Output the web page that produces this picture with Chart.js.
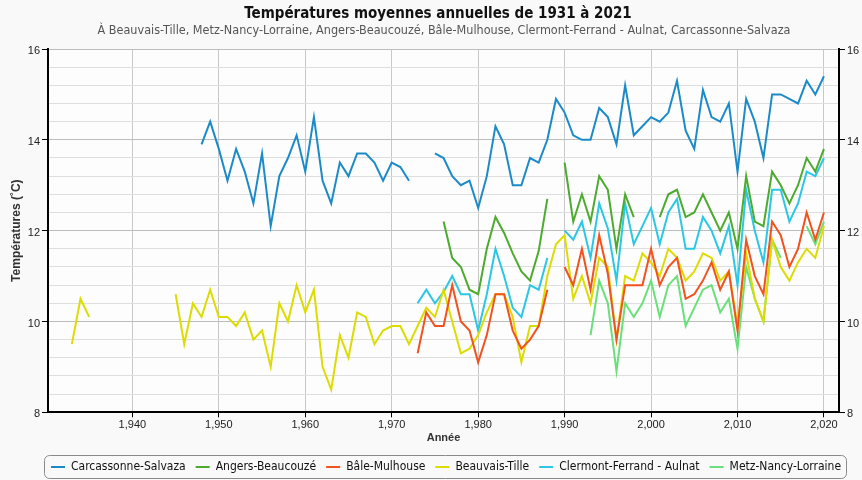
<!DOCTYPE html>
<html>
<head>
<meta charset="utf-8">
<title>Températures moyennes annuelles</title>
<script src="https://cdn.jsdelivr.net/npm/chart.js@4.4.1/dist/chart.umd.min.js"></script>
<style>
    html, body { margin: 0; padding: 0; background: #f9f9f9; }
    #wrap { width: 862px; height: 480px; position: relative; }
</style>
</head>
<body>
<div id="wrap"><canvas id="chart"></canvas></div>
<script>
// ===== DATA (one value per year, null = no measure) =====
const seriesNames = ["Carcassonne-Salvaza", "Angers-Beaucouzé", "Bâle-Mulhouse", "Beauvais-Tille", "Clermont-Ferrand - Aulnat", "Metz-Nancy-Lorraine"];
const seriesColors = ["#1b8bc8", "#4cab2e", "#f2521e", "#dcdc00", "#2bc7e4", "#69e07a"];

const carcassonneStart = 1948;
const carcassonne = [13.9, 14.4, 13.8, 13.1, 13.8, 13.3, 12.6, 13.7, 12.1, 13.2,
    13.6, 14.1, 13.3, 14.5, 13.1, 12.6, 13.5, 13.2, 13.7, 13.7,
    13.5, 13.1, 13.5, 13.4, 13.1, null, null, 13.7, 13.6, 13.2,
    13.0, 13.1, 12.5, 13.2, 14.3, 13.9, 13.0, 13.0, 13.6, 13.5,
    14.0, 14.9, 14.6, 14.1, 14.0, 14.0, 14.7, 14.5, 13.9, 15.2,
    14.1, 14.3, 14.5, 14.4, 14.6, 15.3, 14.2, 13.8, 15.1, 14.5,
    14.4, 14.8, 13.3, 14.9, 14.4, 13.6, 15.0, 15.0, 14.9, 14.8,
    15.3, 15.0, 15.4];

const angersStart = 1976;
const angers = [12.2, 11.4, 11.2, 10.7, 10.6, 11.6, 12.3, 11.95, 11.5, 11.1,
    10.9, 11.55, 12.7, null, 13.5, 12.2, 12.8, 12.2, 13.2, 12.9,
    11.6, 12.8, 12.3, null, null, 12.3, 12.8, 12.9, 12.3, 12.4,
    12.8, 12.4, 12.0, 12.4, 11.6, 13.2, 12.2, 12.1, 13.3, 13.0,
    12.6, 13.0, 13.6, 13.3, 13.8];

const baleStart = 1973;
const bale = [9.3, 10.2, 9.9, 9.9, 10.8, 10.0, 9.8, 9.1, 9.7, 10.6,
    10.6, 9.8, 9.4, 9.6, 9.9, 10.7, null, 11.2, 10.8, 11.6,
    10.7, 11.9, 11.05, 9.6, 10.8, 10.8, 10.8, 11.6, 10.8, 11.2,
    11.4, 10.5, 10.6, 10.9, 11.3, 10.7, 11.1, 9.8, 11.8, 11.0,
    10.6, 12.2, 11.9, 11.2, 11.6, 12.4, 11.8, 12.4];

const beauvaisStart = 1933;
const beauvais = [9.5, 10.5, 10.1, null, null, null, null, null, null, null,
    null, null, 10.6, 9.5, 10.4, 10.1, 10.7, 10.1, 10.1, 9.9,
    10.2, 9.6, 9.8, 9.0, 10.4, 10.0, 10.8, 10.2, 10.7, 9.0,
    8.5, 9.7, 9.2, 10.2, 10.1, 9.5, 9.8, 9.9, 9.9, 9.5,
    9.9, 10.3, 10.1, 10.7, 10.0, 9.3, 9.4, 9.7, 10.2, 10.6,
    10.6, 10.1, 9.1, 9.9, 9.9, 11.0, 11.7, 11.9, 10.5, 11.0,
    10.4, 11.4, 11.2, 9.6, 11.0, 10.9, 11.5, 11.3, 11.0, 11.6,
    11.4, 10.9, 11.1, 11.5, 11.4, 10.9, 11.1, 9.9, 11.5, 10.5,
    10.0, 11.8, 11.2, 10.9, 11.3, 11.6, 11.4, 12.1];

const clermontStart = 1973;
const clermont = [10.4, 10.7, 10.4, 10.65, 11.0, 10.6, 10.6, 9.8, 10.6, 11.6,
    11.0, 10.3, 10.1, 10.8, 10.7, 11.4, null, 12.0, 11.8, 12.2,
    11.4, 12.6, 12.05, 10.9, 12.6, 11.7, 12.1, 12.5, 11.7, 12.4,
    12.7, 11.6, 11.6, 12.3, 12.0, 11.5, 12.1, 10.8, 12.9, 12.0,
    11.3, 12.9, 12.9, 12.2, 12.6, 13.3, 13.2, 13.6];

const metzStart = 1993;
const metz = [9.7, 10.9, 10.4, 8.9, 10.4, 10.1, 10.4, 10.9, 10.1, 10.8,
    11.0, 9.9, 10.3, 10.7, 10.8, 10.2, 10.5, 9.4, 11.2, 10.5,
    10.0, 11.8, 11.4, null, null, 12.1, 11.7, 12.2];

const yearTicks = [1940, 1950, 1960, 1970, 1980, 1990, 2000, 2010, 2020];
const tempLabels = [8, 10, 12, 14, 16];

// ===== helpers =====
function toPoints(start, values) {
    return values.map((v, i) => ({ x: start + i, y: v }));
}
function isMajor(v) {
    return tempLabels.some(t => Math.abs(t - v) < 1e-6);
}

const allSeries = [
    [carcassonneStart, carcassonne], [angersStart, angers], [baleStart, bale],
    [beauvaisStart, beauvais], [clermontStart, clermont], [metzStart, metz]
];

const datasets = allSeries.map(([start, values], i) => ({
    label: seriesNames[i],
    data: toPoints(start, values),
    borderColor: seriesColors[i],
    backgroundColor: seriesColors[i],
    borderWidth: 2,
    pointRadius: 0,
    spanGaps: false,
    tension: 0
}));

Chart.defaults.font.family = "'Liberation Sans', Arial, sans-serif";
Chart.defaults.color = "#222";

// shift a layout box sideways (title / legend are centred on the plot, not the canvas)
function nudge(box, dx) {
    if (!box) return;
    box.left += dx;
    box.right += dx;
}

// plot background + legend frame
const framePlugin = {
    id: "frame",
    afterLayout(chart) {
        nudge(chart.titleBlock, 7);
        const sub = chart.boxes.find(b => b.options && b.options.text === chart.options.plugins.subtitle.text && b !== chart.titleBlock);
        nudge(sub, 13);
        nudge(chart.legend, 15);
    },
    beforeDraw(chart) {
        const { ctx, chartArea: a } = chart;
        ctx.save();
        ctx.fillStyle = "#fdfdfd";
        ctx.fillRect(a.left, a.top, a.right - a.left, a.bottom - a.top);
        ctx.restore();
    },
    afterDraw(chart) {
        if (!chart.legend) return;
        const ctx = chart.ctx;
        ctx.save();
        ctx.strokeStyle = "#8a8a8a";
        ctx.lineWidth = 1;
        ctx.beginPath();
        ctx.roundRect(44.5, 455.5, 802, 23, 5);
        ctx.stroke();
        ctx.restore();
    }
};

new Chart(document.getElementById("chart"), {
    type: "line",
    data: { datasets },
    plugins: [framePlugin],
    options: {
        responsive: true,
        maintainAspectRatio: false,
        animation: false,
        layout: { padding: { left: 0, right: 0, top: 0, bottom: -3 } },
        plugins: {
            title: {
                display: true,
                text: "Températures moyennes annuelles de 1931 à 2021",
                font: { family: "'DejaVu Sans Condensed', sans-serif", size: 15, weight: "bold" },
                color: "#111",
                padding: { top: 5, bottom: 0 }
            },
            subtitle: {
                display: true,
                text: "À Beauvais-Tille, Metz-Nancy-Lorraine, Angers-Beaucouzé, Bâle-Mulhouse, Clermont-Ferrand - Aulnat, Carcassonne-Salvaza",
                font: { family: "'DejaVu Sans Condensed', sans-serif", size: 12.5 },
                color: "#555",
                padding: { top: 0, bottom: 11 }
            },
            legend: {
                position: "bottom",
                labels: {
                    usePointStyle: true,
                    pointStyle: "line",
                    pointStyleWidth: 14,
                    padding: 10,
                    color: "#111",
                    font: { family: "'DejaVu Sans Condensed', sans-serif", size: 12 }
                }
            },
            tooltip: { enabled: false }
        },
        scales: {
            x: {
                type: "linear",
                min: 1930.24,
                max: 2021.74,
                afterBuildTicks: scale => { scale.ticks = yearTicks.map(v => ({ value: v })); },
                afterFit: scale => { scale.height = 38.7; },
                ticks: {
                    padding: 1,
                    font: { size: 11 },
                    maxRotation: 0,
                    callback: v => v.toLocaleString("en-US")
                },
                grid: { color: "#c8c8c8", tickColor: "#000", tickLength: 5 },
                border: { color: "#000", width: 2 },
                title: {
                    display: true,
                    text: "Année",
                    font: { size: 11, weight: "bold" },
                    color: "#333",
                    padding: { top: 0, bottom: 6 }
                }
            },
            y: {
                position: "left",
                min: 8,
                max: 16,
                afterFit: scale => { scale.width = 48; },
                ticks: {
                    stepSize: 0.4,
                    autoSkip: false,
                    padding: 2,
                    labelOffset: 2,
                    font: { size: 11 },
                    callback: v => isMajor(v) ? String(Math.round(v)) : ""
                },
                grid: {
                    color: c => isMajor(c.tick.value) ? "#bdbdbd" : "#dedede",
                    tickColor: c => isMajor(c.tick.value) ? "#000" : "rgba(0,0,0,0)",
                    tickLength: 6
                },
                border: { color: "#000", width: 2 },
                title: {
                    display: true,
                    text: "Températures (˚C)",
                    font: { size: 12, weight: "bold" },
                    color: "#333",
                    padding: { top: 9, bottom: 0 }
                }
            },
            y2: {
                position: "right",
                min: 8,
                max: 16,
                afterFit: scale => { scale.width = 23; },
                ticks: {
                    stepSize: 0.4,
                    autoSkip: false,
                    padding: 2,
                    labelOffset: 2,
                    font: { size: 11 },
                    callback: v => isMajor(v) ? String(Math.round(v)) : ""
                },
                grid: {
                    drawOnChartArea: false,
                    tickColor: c => isMajor(c.tick.value) ? "#000" : "rgba(0,0,0,0)",
                    tickLength: 6
                },
                border: { color: "#000", width: 2 }
            }
        }
    }
});
</script>
</body>
</html>
